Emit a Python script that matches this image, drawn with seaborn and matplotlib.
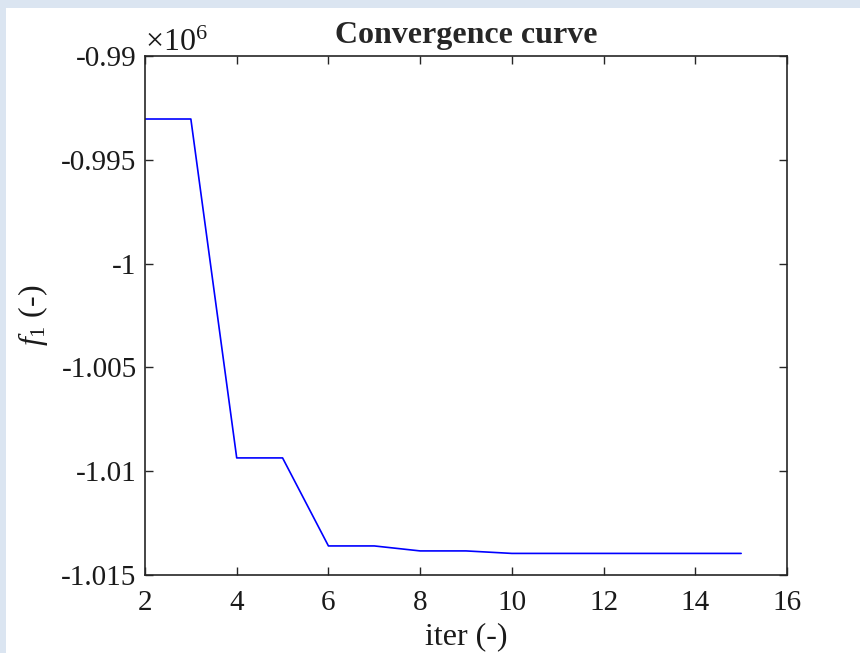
import numpy as np
import pandas as pd
import matplotlib
matplotlib.use("Agg")
import matplotlib.pyplot as plt
from matplotlib.patches import Rectangle
from matplotlib.ticker import FuncFormatter
import seaborn as sns

# convergence history
iters = [2, 3, 4, 5, 6, 7, 8, 9, 10, 11, 12, 13, 14, 15]
f1 = [-993035, -993035, -1009360, -1009360, -1013600, -1013600, -1013840,
      -1013840, -1013960, -1013960, -1013960, -1013960, -1013960, -1013960]

xticks = [2, 4, 6, 8, 10, 12, 14, 16]
yticks = [-990000, -995000, -1000000, -1005000, -1010000, -1015000]

sns.set_style("ticks")
plt.rcParams["font.family"] = ["Liberation Serif", "DejaVu Serif"]
plt.rcParams["mathtext.fontset"] = "custom"
plt.rcParams["mathtext.rm"] = "Liberation Serif"
plt.rcParams["mathtext.it"] = "Liberation Serif:italic"

fig = plt.figure(figsize=(8.6, 6.53), dpi=100)
fig.patch.set_facecolor("#dbe5f1")
fig.add_artist(Rectangle((6 / 860, 0), 1, 1 - 8 / 653, transform=fig.transFigure,
                         facecolor="white", edgecolor="none", zorder=-1))

ax = fig.add_axes([145 / 860, 1 - 575 / 653, 642 / 860, 519 / 653])
ax.set_facecolor("white")

df = pd.DataFrame({"iter": iters, "f1": f1})
sns.lineplot(data=df, x="iter", y="f1", color="blue", linewidth=1.2, ax=ax)

ax.set_xlim(2, 16)
ax.set_ylim(-1015000, -990000)
ax.set_xticks(xticks)
ax.set_yticks(yticks)
ax.yaxis.set_major_formatter(FuncFormatter(lambda v, p: f"{v / 1e6:g}"))

for s in ax.spines.values():
    s.set_visible(True)
    s.set_color("#262626")
    s.set_linewidth(1.2)
ax.tick_params(direction="in", length=6, width=1.0, color="#262626",
               top=True, right=True, labelsize=21, labelcolor="#1a1a1a")
ax.tick_params(axis="x", pad=11)
ax.tick_params(axis="y", pad=6)

ax.set_xlabel("iter (-)", fontsize=23, color="#1a1a1a", labelpad=4)
ax.set_ylabel("$f_1$ (-)", fontsize=23, color="#1a1a1a", labelpad=8)
ax.set_title("Convergence curve", fontsize=23, fontweight="bold", pad=9)
ax.text(0.0, 0.997, r"$\times10^6$", transform=ax.transAxes, fontsize=23,
        color="#1a1a1a", ha="left", va="bottom")

fig.savefig("out.png", dpi=100, facecolor=fig.get_facecolor())
